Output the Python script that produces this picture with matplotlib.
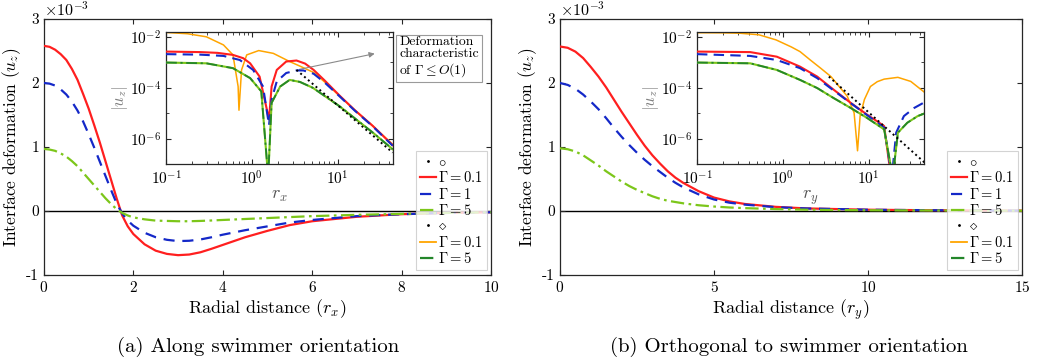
import numpy as np
import matplotlib
matplotlib.use("Agg")
import matplotlib.pyplot as plt
from matplotlib.lines import Line2D
from matplotlib.ticker import FixedLocator, NullFormatter

plt.rcParams["font.family"] = "serif"
plt.rcParams["font.serif"] = ["cmr10"]
plt.rcParams["mathtext.fontset"] = "cm"
plt.rcParams["axes.formatter.use_mathtext"] = True
plt.rcParams["axes.unicode_minus"] = True

# main panels, u_z in units of 1e-3
r_a = [0, 0.125, 0.25, 0.375, 0.5, 0.625, 0.75, 0.875, 1.0, 1.125, 1.25, 1.375, 1.5, 1.625, 1.75, 1.875,
       2.0, 2.25, 2.5, 2.75, 3.0, 3.25, 3.5, 3.75, 4.0, 4.5, 5.0, 5.5, 6.0, 7.0, 8.0, 9.0, 10.0]
red_a = [2.58, 2.565, 2.52, 2.45, 2.36, 2.22, 2.05, 1.83, 1.6, 1.34, 1.07, 0.78, 0.49, 0.2, -0.07, -0.24,
         -0.36, -0.52, -0.62, -0.67, -0.69, -0.68, -0.645, -0.59, -0.53, -0.41, -0.31, -0.22, -0.16, -0.09, -0.05, -0.03, -0.02]
blue_a = [2.0, 1.99, 1.96, 1.9, 1.82, 1.71, 1.57, 1.4, 1.2, 0.99, 0.77, 0.55, 0.33, 0.12, -0.04, -0.15,
          -0.23, -0.34, -0.41, -0.45, -0.47, -0.465, -0.445, -0.41, -0.37, -0.3, -0.24, -0.18, -0.14, -0.08, -0.05, -0.03, -0.02]
green_a = [0.97, 0.96, 0.94, 0.9, 0.85, 0.78, 0.7, 0.6, 0.5, 0.4, 0.3, 0.2, 0.11, 0.03, -0.03, -0.07,
           -0.1, -0.13, -0.15, -0.155, -0.16, -0.16, -0.155, -0.148, -0.14, -0.125, -0.11, -0.095, -0.08, -0.06, -0.045, -0.03, -0.02]

r_b = [0, 0.25, 0.5, 0.75, 1.0, 1.25, 1.5, 1.75, 2.0, 2.25, 2.5, 2.75, 3.0, 3.25, 3.5, 3.75, 4.0, 4.5, 5.0,
       5.5, 6.0, 7.0, 8.0, 9.0, 10.0, 12.0, 15.0]
red_b = [2.57, 2.55, 2.49, 2.39, 2.25, 2.1, 1.93, 1.74, 1.55, 1.37, 1.19, 1.02, 0.87, 0.74, 0.62, 0.52, 0.44, 0.31, 0.21,
         0.15, 0.11, 0.065, 0.04, 0.03, 0.02, 0.012, 0.006]
blue_b = [2.0, 1.97, 1.91, 1.82, 1.71, 1.59, 1.45, 1.3, 1.16, 1.03, 0.91, 0.8, 0.7, 0.61, 0.52, 0.44, 0.37, 0.26, 0.18,
          0.13, 0.1, 0.06, 0.04, 0.03, 0.02, 0.012, 0.006]
green_b = [0.98, 0.965, 0.93, 0.87, 0.79, 0.71, 0.62, 0.54, 0.46, 0.39, 0.33, 0.28, 0.23, 0.19, 0.16, 0.14, 0.12, 0.09, 0.07,
           0.055, 0.045, 0.03, 0.02, 0.015, 0.012, 0.008, 0.005]

# insets, log10(r) and log10(|u_z|)
lr_or_a = [-1.0, -0.75, -0.53, -0.33, -0.22, -0.16, -0.15, -0.12, -0.06, 0.08, 0.25, 0.44, 0.56, 0.72, 0.85, 1.02, 1.2, 1.41, 1.64]
lu_or_a = [-1.83, -1.88, -2.0, -2.32, -2.71, -3.95, -4.88, -3.3, -2.71, -2.54, -2.65, -2.97, -3.15, -3.4, -3.78, -4.32, -4.88, -5.5, -6.22]
lr_red_a = [-1.0, -0.6, -0.4, -0.22, -0.1, -0.02, 0.09, 0.2, 0.23, 0.29, 0.4, 0.52, 0.62, 0.72, 0.85, 1.02, 1.2, 1.41, 1.64]
lu_red_a = [-2.58, -2.6, -2.63, -2.71, -2.84, -3.04, -3.56, -5.24, -3.95, -3.3, -2.97, -2.93, -3.05, -3.3, -3.72, -4.3, -4.88, -5.5, -6.25]
lr_blue_a = [-1.0, -0.6, -0.33, -0.14, 0.015, 0.13, 0.2, 0.23, 0.29, 0.4, 0.52, 0.6, 0.72, 0.85, 1.02, 1.2, 1.41, 1.64]
lu_blue_a = [-2.68, -2.7, -2.75, -2.91, -3.3, -3.95, -5.47, -4.46, -3.75, -3.42, -3.32, -3.32, -3.45, -3.8, -4.33, -4.9, -5.52, -6.27]
lr_grn_a = [-1.0, -0.53, -0.22, -0.02, 0.11, 0.19, 0.23, 0.33, 0.44, 0.56, 0.71, 1.02, 1.41, 1.64]
lu_grn_a = [-3.01, -3.04, -3.23, -3.62, -4.14, -7.5, -4.59, -3.95, -3.69, -3.77, -4.0, -4.72, -5.76, -6.41]
lr_ref_a = [0.52, 1.64]
lu_ref_a = [-3.3, -6.54]

lr_or_b = [-1.0, -0.7, -0.5, -0.28, -0.08, 0.1, 0.2, 0.32, 0.44, 0.56, 0.75, 0.83, 0.87, 0.9, 0.95, 1.02, 1.1, 1.18, 1.34, 1.49, 1.67]
lu_or_b = [-1.84, -1.845, -1.86, -1.92, -2.12, -2.4, -2.58, -2.91, -3.23, -3.56, -4.33, -4.98, -6.47, -5.11, -4.46, -3.95, -3.76, -3.66, -3.59, -3.75, -4.23]
lr_red_b = [-1.0, -0.38, -0.07, 0.2, 0.4, 0.59, 0.79, 0.98, 1.18, 1.26]
lu_red_b = [-2.58, -2.6, -2.78, -3.17, -3.56, -4.07, -4.59, -5.05, -5.5, -7.5]
lr_blue_b = [-1.0, -0.38, -0.07, 0.2, 0.4, 0.59, 0.79, 0.98, 1.18, 1.27, 1.32, 1.41, 1.53, 1.67]
lu_blue_b = [-2.68, -2.75, -2.91, -3.23, -3.62, -4.1, -4.6, -5.07, -5.56, -7.5, -5.76, -5.11, -4.79, -4.53]
lr_grn_b = [-1.0, -0.38, -0.07, 0.2, 0.4, 0.59, 0.79, 0.98, 1.18, 1.28, 1.34, 1.45, 1.57, 1.67]
lu_grn_b = [-3.01, -3.04, -3.3, -3.69, -4.01, -4.4, -4.79, -5.18, -5.63, -7.5, -5.76, -5.37, -5.11, -4.98]
lr_ref_b = [0.536, 1.67]
lu_ref_b = [-3.56, -6.99]

RED = "#ff1f1f"
BLUE = "#1428c8"
LGREEN = "#7cc61a"
ORANGE = "#ffa500"
DGREEN = "#23862a"
AXC = "#262626"
DASH = (0, (5, 3.5))
DASHDOT = (0, (6, 2, 1.2, 2))


def p10(v):
    return 10.0 ** np.array(v)


fig = plt.figure(figsize=(10.44, 3.63), dpi=100)


def style(ax, fs=11):
    ax.tick_params(direction="in", top=True, right=True, labelsize=fs, colors=AXC, labelcolor="black")
    ax.tick_params(which="minor", direction="in", top=True, right=True, colors=AXC)
    for s in ax.spines.values():
        s.set_color(AXC)
        s.set_linewidth(0.9)


def main_panel(rect, r, red, blue, green, xmax, xticks, xlab, caption, cx):
    ax = fig.add_axes(rect)
    ax.axhline(0, color="k", lw=1, zorder=1)
    ax.plot(r, red, color=RED, lw=1.6, zorder=3)
    ax.plot(r, blue, color=BLUE, lw=1.6, ls=DASH, zorder=3)
    ax.plot(r, green, color=LGREEN, lw=1.6, ls=DASHDOT, zorder=3)
    ax.set_xlim(0, xmax)
    ax.set_ylim(-1, 3)
    ax.set_xticks(xticks)
    ax.set_yticks([-1, 0, 1, 2, 3])
    ax.set_yticklabels(["-1", "0", "1", "2", "3"])
    style(ax)
    ax.set_xlabel(xlab, fontsize=13, labelpad=2)
    ax.set_ylabel(r"Interface deformation ($u_z$)", fontsize=12.5, labelpad=2)
    ax.text(0.0, 1.0, r"$\times10^{-3}$", transform=ax.transAxes, fontsize=11.5, ha="left", va="bottom")
    fig.text(cx, 0.045, caption, fontsize=15, ha="center", va="center")

    handles = [
        Line2D([], [], color="k", ls="none", marker=".", ms=2),
        Line2D([], [], color=RED, lw=1.6),
        Line2D([], [], color=BLUE, lw=1.6, ls=DASH),
        Line2D([], [], color=LGREEN, lw=1.6, ls=DASHDOT),
        Line2D([], [], color="k", ls="none", marker=".", ms=2),
        Line2D([], [], color=ORANGE, lw=1.3),
        Line2D([], [], color=DGREEN, lw=1.6, ls=DASHDOT),
    ]
    labels = [r"$\circ$", r"$\Gamma = 0.1$", r"$\Gamma = 1$", r"$\Gamma = 5$",
              r"$\diamond$", r"$\Gamma = 0.1$", r"$\Gamma = 5$"]
    leg = ax.legend(handles, labels, loc="lower right", bbox_to_anchor=(0.991, 0.02),
                    borderaxespad=0, fontsize=10.5, handlelength=1.1, handletextpad=0.15,
                    labelspacing=0.1, borderpad=0.25, frameon=True, fancybox=False)
    leg.get_frame().set_edgecolor("#c8c8c8")
    leg.get_frame().set_linewidth(0.8)
    leg.set_zorder(5)
    return ax


def inset(rect, o, rd, bl, gr, ref, xlab):
    ax = fig.add_axes(rect)
    ax.plot(p10(o[0]), p10(o[1]), color=ORANGE, lw=1.1, zorder=2)
    ax.plot(p10(rd[0]), p10(rd[1]), color=RED, lw=1.5, zorder=3)
    ax.plot(p10(bl[0]), p10(bl[1]), color=BLUE, lw=1.5, ls=(0, (5, 3)), zorder=4)
    ax.plot(p10(gr[0]), p10(gr[1]), color=LGREEN, lw=1.5, zorder=4)
    ax.plot(p10(gr[0]), p10(gr[1]), color=DGREEN, lw=1.3, ls=DASHDOT, zorder=5)
    ax.plot(p10(ref[0]), p10(ref[1]), color="k", lw=1.4, ls=(0, (1, 1.6)), zorder=6)
    ax.set_xscale("log")
    ax.set_yscale("log")
    ax.set_xlim(0.1, 44)
    ax.set_ylim(1e-7, 1.5e-2)
    ax.set_xticks([0.1, 1, 10])
    ax.set_yticks([1e-6, 1e-4, 1e-2])
    ax.yaxis.set_minor_locator(FixedLocator([1e-7, 1e-5, 1e-3]))
    ax.yaxis.set_minor_formatter(NullFormatter())
    style(ax, fs=11)
    ax.set_xlabel(xlab, fontsize=13, color="#555555", labelpad=1)
    ax.set_ylabel(r"$|u_z|$", fontsize=12, color="#808080", labelpad=0)
    return ax


ax1 = main_panel([0.0421, 0.2424, 0.4282, 0.7053], r_a, red_a, blue_a, green_a, 10,
                 [0, 2, 4, 6, 8, 10], r"Radial distance ($r_x$)",
                 "(a) Along swimmer orientation", 0.247)
ax2 = main_panel([0.5364, 0.2424, 0.4425, 0.7053], r_b, red_b, blue_b, green_b, 15,
                 [0, 5, 10, 15], r"Radial distance ($r_y$)",
                 "(b) Orthogonal to swimmer orientation", 0.756)

in1 = inset([0.1590, 0.5474, 0.2174, 0.3636], (lr_or_a, lu_or_a), (lr_red_a, lu_red_a),
            (lr_blue_a, lu_blue_a), (lr_grn_a, lu_grn_a), (lr_ref_a, lu_ref_a), r"$r_x$")
in2 = inset([0.6676, 0.5474, 0.2174, 0.3636], (lr_or_b, lu_or_b), (lr_red_b, lu_red_b),
            (lr_blue_b, lu_blue_b), (lr_grn_b, lu_grn_b), (lr_ref_b, lu_ref_b), r"$r_y$")

in1.annotate("", xy=(29, 2.3e-3), xytext=(3.3, 5e-4),
             arrowprops=dict(arrowstyle="-|>", color="#8a8a8a", lw=0.8, mutation_scale=8))
fig.text(0.3825, 0.902, "Deformation\ncharacteristic\nof $\\Gamma \\leq O(1)$", fontsize=9.8,
         ha="left", va="top", linespacing=1.05,
         bbox=dict(boxstyle="square,pad=0.25", fc="white", ec="#9a9a9a", lw=0.8))

fig.savefig("out.png", dpi=100)
